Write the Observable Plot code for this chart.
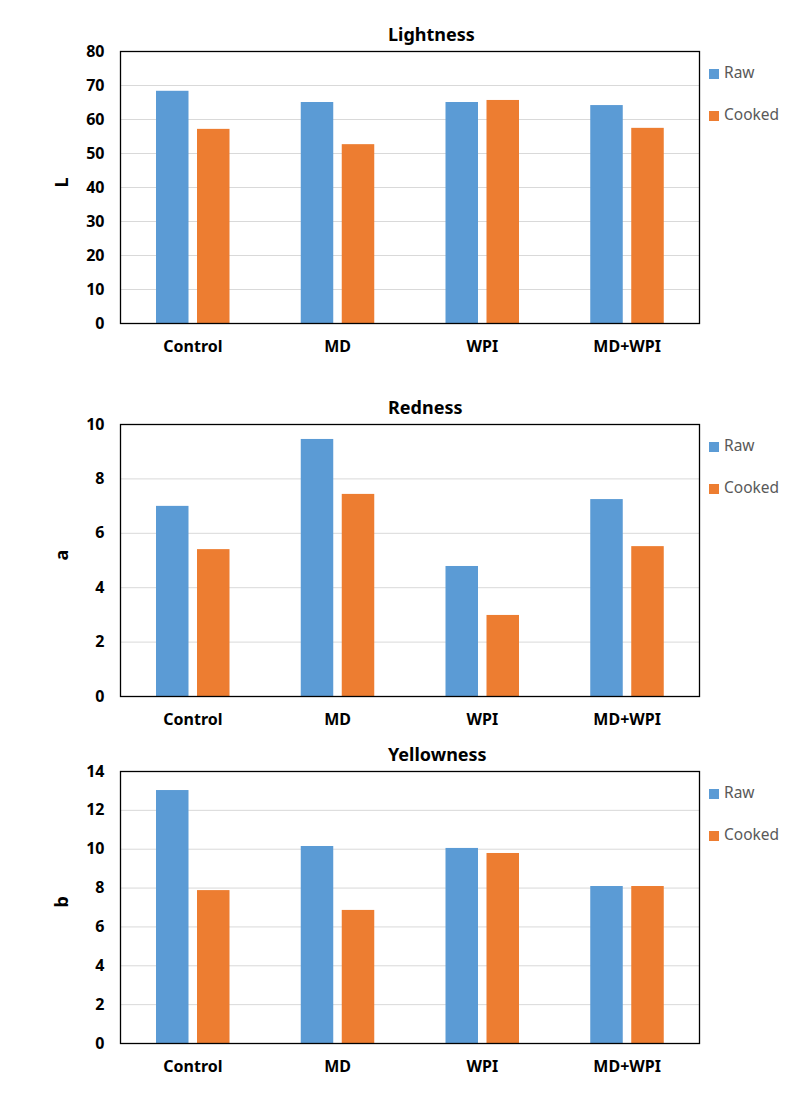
<!DOCTYPE html>
<html><head><meta charset="utf-8">
<script src="https://cdn.jsdelivr.net/npm/d3@7"></script>
<script src="https://cdn.jsdelivr.net/npm/@observablehq/plot@0.6"></script>
<style>
body{margin:0;background:#fff;font-family:"Noto Sans",sans-serif;}
#root{position:relative;width:792px;height:1094px;overflow:hidden;}
.title{position:absolute;left:388px;text-align:left;font-weight:bold;font-size:18px;line-height:22px;color:#000;white-space:nowrap;}
.panel{position:absolute;left:0;}
.leg{position:absolute;left:709px;font-size:15.5px;line-height:22px;color:#595959;white-space:nowrap;}
.sw{display:inline-block;width:10px;height:10px;margin-right:5px;vertical-align:-1px;}
</style></head>
<body><div id="root"></div>
<script>
const categories = ["Control", "MD", "WPI", "MD+WPI"];
const seriesNames = ["Raw", "Cooked"];
const seriesColors = ["#5b9bd5", "#ed7d31"];

const lightnessRaw = [68.3, 65.0, 65.0, 64.1];
const lightnessCooked = [57.1, 52.6, 65.6, 57.4];
const rednessRaw = [6.99, 9.45, 4.78, 7.24];
const rednessCooked = [5.40, 7.43, 2.98, 5.51];
const yellownessRaw = [13.02, 10.14, 10.04, 8.08];
const yellownessCooked = [7.87, 6.85, 9.78, 8.08];

const lightnessTicks = [0, 10, 20, 30, 40, 50, 60, 70, 80];
const rednessTicks = [0, 2, 4, 6, 8, 10];
const yellownessTicks = [0, 2, 4, 6, 8, 10, 12, 14];

const panels = [
  {title: "Lightness", ylabel: "L", raw: lightnessRaw, cooked: lightnessCooked, ticks: lightnessTicks, top: 51},
  {title: "Redness", ylabel: "a", raw: rednessRaw, cooked: rednessCooked, ticks: rednessTicks, top: 424},
  {title: "Yellowness", ylabel: "b", raw: yellownessRaw, cooked: yellownessCooked, ticks: yellownessTicks, top: 771}
];

const root = document.getElementById("root");
const frameH = 272, mTop = 10, mBottom = 40;

for (const p of panels) {
  const t = document.createElement("div");
  t.className = "title";
  t.style.top = (p.top - 28) + "px";
  t.textContent = p.title;
  root.appendChild(t);

  const rawData = categories.map((c, i) => ({cat: c, value: p.raw[i]}));
  const cookedData = categories.map((c, i) => ({cat: c, value: p.cooked[i]}));
  const maxV = p.ticks[p.ticks.length - 1];

  const chart = Plot.plot({
    width: 792,
    height: mTop + frameH + mBottom,
    marginLeft: 120,
    marginRight: 93,
    marginTop: mTop,
    marginBottom: mBottom,
    style: {fontFamily: "'Noto Sans', sans-serif", fontSize: "16px", fontWeight: "bold", color: "#000", background: "transparent"},
    x: {domain: categories, padding: 0, round: false, label: null},
    y: {domain: [0, maxV], label: null},
    marks: [
      Plot.gridY(p.ticks.filter(v => v > 0 && v < maxV), {stroke: "#d9d9d9", strokeOpacity: 1}),
      Plot.barY(rawData, {x: "cat", y: "value", fill: seriesColors[0], insetLeft: 36, insetRight: 76.25}),
      Plot.barY(cookedData, {x: "cat", y: "value", fill: seriesColors[1], insetLeft: 77, insetRight: 35.25}),
      Plot.frame({stroke: "#000", strokeWidth: 1.3}),
      Plot.axisY({ticks: p.ticks, tickSize: 0, tickPadding: 16, label: null}),
      Plot.axisX({tickSize: 0, tickPadding: 17, label: null}),
      Plot.text([p.ylabel], {text: d => d, frameAnchor: "left", dx: -58, rotate: -90, fontSize: 18, fontWeight: "bold", fill: "#000"})
    ]
  });
  const wrap = document.createElement("div");
  wrap.className = "panel";
  wrap.style.top = (p.top - mTop) + "px";
  wrap.appendChild(chart);
  root.appendChild(wrap);

  seriesNames.forEach((s, i) => {
    const l = document.createElement("div");
    l.className = "leg";
    l.style.top = (p.top + 21 + i * 42 - 11) + "px";
    const sw = document.createElement("span");
    sw.className = "sw";
    sw.style.background = seriesColors[i];
    l.appendChild(sw);
    l.appendChild(document.createTextNode(s));
    root.appendChild(l);
  });
}
</script>
</body></html>
